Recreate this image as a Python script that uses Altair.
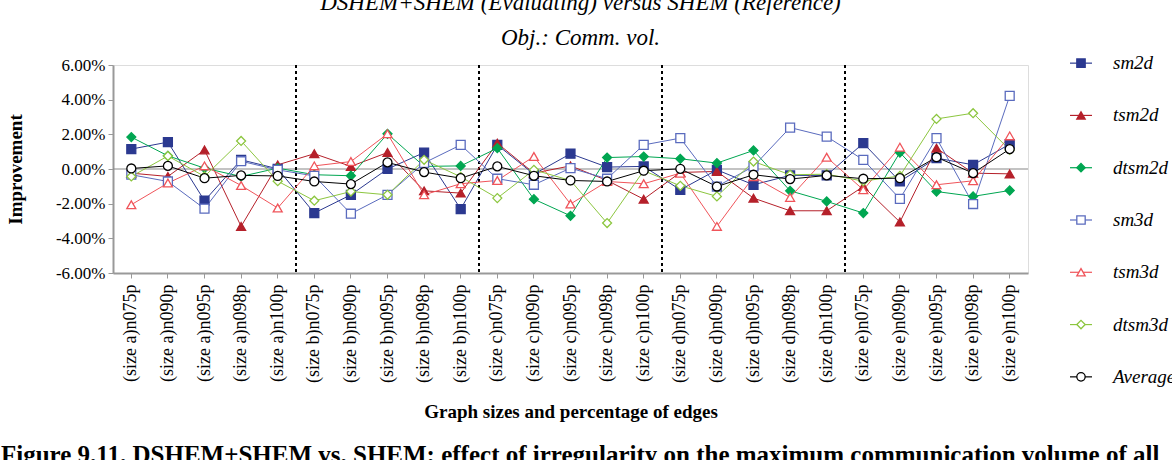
import altair as alt
import pandas as pd

categories = [
    "(size a)n075p", "(size a)n090p", "(size a)n095p", "(size a)n098p", "(size a)n100p",
    "(size b)n075p", "(size b)n090p", "(size b)n095p", "(size b)n098p", "(size b)n100p",
    "(size c)n075p", "(size c)n090p", "(size c)n095p", "(size c)n098p", "(size c)n100p",
    "(size d)n075p", "(size d)n090p", "(size d)n095p", "(size d)n098p", "(size d)n100p",
    "(size e)n075p", "(size e)n090p", "(size e)n095p", "(size e)n098p", "(size e)n100p",
]
group_starts = ["(size b)n075p", "(size c)n075p", "(size d)n075p", "(size e)n075p"]

series_names = ["sm2d", "tsm2d", "dtsm2d", "sm3d", "tsm3d", "dtsm3d", "Average"]

sm2d = [1.15, 1.55, -1.83, 0.53, 0.01, -2.54, -1.49, 0.0, 0.95, -2.31, 1.39, -0.30, 0.88,
        0.11, 0.15, -1.20, -0.05, -0.91, -0.37, -0.37, 1.49, -0.72, 0.63, 0.24, 1.43]
tsm2d = [-0.24, -0.43, 1.10, -3.31, 0.24, 0.88, 0.15, 0.95, -1.26, -1.39, 1.49, -0.24, 0.18,
         -0.66, -1.74, -0.20, -0.14, -1.68, -2.41, -2.41, -1.01, -3.06, 1.20, -0.24, -0.28]
dtsm2d = [1.84, 0.76, 0.05, -0.43, 0.05, -0.33, -0.39, 2.03, 0.15, 0.18, 1.20, -1.74, -2.70,
          0.66, 0.72, 0.59, 0.34, 1.07, -1.26, -1.87, -2.54, 0.95, -1.30, -1.58, -1.24]
sm3d = [-0.33, -0.72, -2.29, 0.45, -0.05, -0.40, -2.58, -1.49, 0.35, 1.39, -0.56, -0.91, 0.05,
        -0.56, 1.39, 1.78, -1.01, 0.15, 2.39, 1.87, 0.53, -1.72, 1.78, -2.02, 4.22]
tsm3d = [-2.06, -0.81, 0.18, -0.95, -2.25, 0.18, 0.43, 2.03, -1.49, -0.85, -0.66, 0.72, -2.02,
         -0.72, -0.85, -0.24, -3.31, -0.45, -1.64, 0.68, -1.20, 1.26, -0.91, -0.68, 1.91]
dtsm3d = [-0.43, 0.75, -0.43, 1.62, -0.70, -1.83, -1.30, -1.49, 0.53, -0.45, -1.68, -0.05, -0.66,
          -3.12, -0.10, -0.97, -1.58, 0.43, -0.33, -0.30, -0.70, -0.40, 2.89, 3.22, 1.10]
average = [0.03, 0.18, -0.53, -0.37, -0.40, -0.72, -0.87, 0.38, -0.18, -0.53, 0.15, -0.39, -0.66,
           -0.72, -0.10, 0.01, -1.01, -0.33, -0.58, -0.37, -0.56, -0.53, 0.68, -0.24, 1.15]

y_ticks = [-6, -4, -2, 0, 2, 4, 6]

colors = ["#2B3990", "#B5202A", "#00A651", "#5A6BBE", "#F0545A", "#8CC63F", "#000000"]
shapes = ["square", "triangle-up", "diamond", "square", "triangle-up", "diamond", "circle"]
fills = ["#2B3990", "#B5202A", "#00A651", "white", "white", "white", "white"]

title_lines = ["DSHEM+SHEM (Evaluating) versus SHEM (Reference)", "Obj.: Comm. vol."]
caption = "Figure 9.11. DSHEM+SHEM vs. SHEM: effect of irregularity on the maximum communication volume of all"

values = [sm2d, tsm2d, dtsm2d, sm3d, tsm3d, dtsm3d, average]
rows = []
for name, vals in zip(series_names, values):
    for c, v in zip(categories, vals):
        rows.append({"cat": c, "series": name, "value": v})
df = pd.DataFrame(rows)
legend_df = pd.DataFrame({"series": series_names})

SERIF = "Liberation Serif"

xscale = alt.Scale(type="band", domain=categories, paddingInner=0, paddingOuter=0)
yscale = alt.Scale(domain=[-6, 6], nice=False, zero=False)

x_enc = alt.X(
    "cat:N", scale=xscale,
    axis=alt.Axis(
        title="Graph sizes and percentage of edges",
        titleFont=SERIF, titleFontSize=19, titleFontWeight="bold", titlePadding=20,
        titleColor="black",
        labelAngle=270, labelAlign="right", labelBaseline="middle",
        labelFont=SERIF, labelFontSize=18, labelPadding=6, labelColor="black",
        domainColor="#999999", domainWidth=2, tickColor="#999999", tickSize=5,
        grid=False, labelOverlap=False,
    ),
)
y_axis = alt.Axis(
    values=y_ticks,
    labelExpr="replace(format(datum.value, '.2f'), '\u2212', '-') + '%'",
    title="Improvement", titleFont=SERIF, titleFontSize=19, titleFontWeight="bold",
    titlePadding=30, titleColor="black",
    labelFont=SERIF, labelFontSize=17, labelColor="black", labelPadding=3,
    labelOverlap=False, labelBound=False,
    domainColor="#999999", domainWidth=2, tickColor="#999999", tickSize=5, grid=False,
)
y_enc = alt.Y("value:Q", scale=yscale, axis=y_axis)

color_scale = alt.Scale(domain=series_names, range=colors)
shape_scale = alt.Scale(domain=series_names, range=shapes)
fill_scale = alt.Scale(domain=series_names, range=fills)

base = alt.Chart(df)

zero = base.mark_rule(color="#888888", strokeWidth=1.2).encode(
    y=alt.Y("z:Q", scale=yscale, axis=y_axis)
).transform_aggregate(n="count()").transform_calculate(z="0")

dividers = alt.Chart(pd.DataFrame({"cat": group_starts})).mark_rule(
    color="black", strokeDash=[3, 3], strokeWidth=2
).encode(x=alt.X("cat:N", scale=xscale, bandPosition=0))

lines = base.mark_line(strokeWidth=1).encode(
    x=x_enc, y=y_enc,
    color=alt.Color("series:N", scale=color_scale, legend=None),
    detail="series:N",
)

points = base.mark_point(filled=False, size=80, strokeWidth=1.3, opacity=1).encode(
    x=x_enc, y=y_enc,
    color=alt.Color("series:N", scale=color_scale, legend=None),
    shape=alt.Shape("series:N", scale=shape_scale, legend=None),
    fill=alt.Fill("series:N", scale=fill_scale, legend=None),
)

cap = alt.Chart(pd.DataFrame({"t": [caption]})).mark_text(
    align="left", baseline="alphabetic", font=SERIF, fontSize=25, fontWeight="bold", color="black"
).encode(x=alt.value(-112), y=alt.value(398), text="t:N")

main = alt.layer(zero, dividers, lines, points, cap)

# legend built from its own point scale
leg_y = alt.Y("series:N", scale=alt.Scale(domain=series_names, range=[-28, 338], padding=0), axis=None)
leg_base = alt.Chart(legend_df)
leg_rule = leg_base.mark_rule(strokeWidth=1.2).encode(
    x=alt.value(957), x2=alt.value(979), y=leg_y,
    color=alt.Color("series:N", scale=color_scale, legend=None),
)
leg_pt = leg_base.mark_point(filled=False, size=70, strokeWidth=1.3, opacity=1).encode(
    x=alt.value(968), y=leg_y,
    color=alt.Color("series:N", scale=color_scale, legend=None),
    shape=alt.Shape("series:N", scale=shape_scale, legend=None),
    fill=alt.Fill("series:N", scale=fill_scale, legend=None),
)
leg_txt = leg_base.mark_text(
    align="left", baseline="middle", font=SERIF, fontStyle="italic", fontSize=19, color="black"
).encode(x=alt.value(1000), y=leg_y, text="series:N")
legend = alt.layer(leg_rule, leg_pt, leg_txt)

chart = alt.layer(main, legend).resolve_scale(y="independent").properties(
    width=915, height=208,
    title=alt.TitleParams(
        text=title_lines, font=SERIF, fontStyle="italic", fontWeight="normal", fontSize=23,
        anchor="middle", dx=10, offset=4, lineHeight=35, color="black",
    ),
    autosize=alt.AutoSizeParams(type="none"),
    padding={"left": 113, "top": 65, "right": 144, "bottom": 187},
).configure_view(stroke=None).configure_axis(labelOverlap=False).configure(background="white")

chart.save("out.html", embed_options={"renderer": "svg", "actions": False})
